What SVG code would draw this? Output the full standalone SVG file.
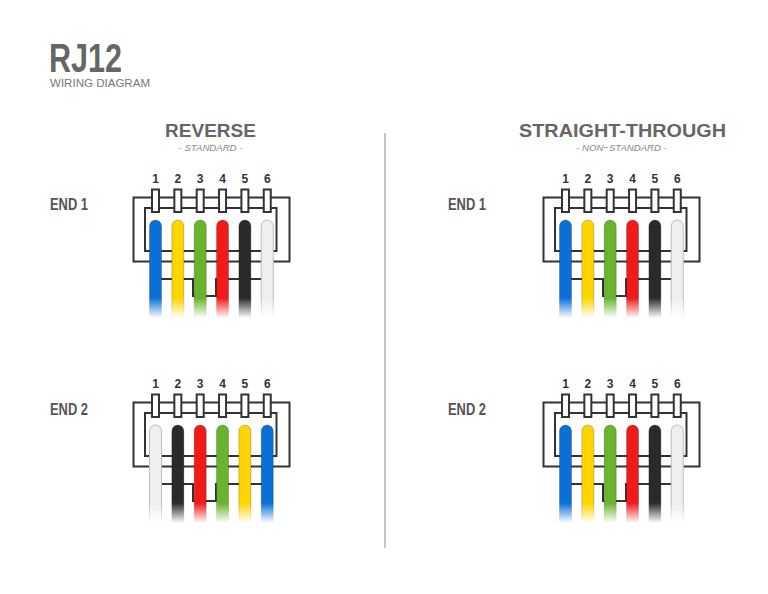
<svg xmlns="http://www.w3.org/2000/svg" xmlns:xlink="http://www.w3.org/1999/xlink" width="768" height="594" viewBox="0 0 768 594">
  <style>
    .title { font-family: "Liberation Sans", Arial, sans-serif; font-weight: bold; fill: #666; }
    .sub { font-family: "Liberation Sans", Arial, sans-serif; font-style: italic; font-size: 9.6px; fill: #888; }
    .end { font-family: "Liberation Sans", Arial, sans-serif; font-weight: bold; font-size: 16.5px; fill: #555; }
    .num { font-family: "Liberation Sans", Arial, sans-serif; font-weight: bold; font-size: 12px; fill: #333; text-anchor: middle; }
    .frame { fill: none; stroke: #333; stroke-width: 2; }
    .pin { fill: #fff; stroke: #333; stroke-width: 2; }
    .wire { stroke: rgba(0,0,0,0.22); stroke-width: 1; }
    .blue { fill: #0b6fd8; }
    .yellow { fill: #ffd500; }
    .green { fill: #6ab42d; }
    .red { fill: #f01a1a; }
    .black { fill: #2a2a2a; }
    .white { fill: #efefef; stroke: #bcbcbc; }
  </style>
  <defs>
    <linearGradient id="fade" gradientUnits="userSpaceOnUse" x1="0" y1="298" x2="0" y2="318">
      <stop offset="0" stop-color="#fff" stop-opacity="1"/>
      <stop offset="1" stop-color="#fff" stop-opacity="0"/>
    </linearGradient>
    <mask id="wirefade" maskUnits="userSpaceOnUse" x="130" y="210" width="170" height="120">
      <rect x="130" y="210" width="170" height="120" fill="url(#fade)"/>
    </mask>
    <g id="body">
      <rect class="frame" x="133.5" y="197.5" width="156" height="64"/>
      <rect class="frame" x="145" y="208" width="131.5" height="43"/>
      <path class="frame" d="M150,279 H193 V296 H216 V279 H272"/>
      <rect class="pin" x="152" y="189.5" width="7" height="22.5"/>
      <rect class="pin" x="174.35" y="189.5" width="7" height="22.5"/>
      <rect class="pin" x="196.7" y="189.5" width="7" height="22.5"/>
      <rect class="pin" x="219.05" y="189.5" width="7" height="22.5"/>
      <rect class="pin" x="241.4" y="189.5" width="7" height="22.5"/>
      <rect class="pin" x="263.75" y="189.5" width="7" height="22.5"/>
    </g>
  </defs>

  <g id="header">
    <text class="title" x="49" y="72" font-size="41" textLength="73" lengthAdjust="spacingAndGlyphs">RJ12</text>
    <text x="50" y="86.5" font-family="Liberation Sans, Arial, sans-serif" font-size="11" fill="#777" textLength="100" lengthAdjust="spacingAndGlyphs">WIRING DIAGRAM</text>
  </g>

  <g id="heading-reverse">
    <text class="title" x="210.5" y="136.5" font-size="19" text-anchor="middle">REVERSE</text>
    <text class="sub" x="210.5" y="150.5" text-anchor="middle">- STANDARD -</text>
  </g>
  <g id="heading-straight">
    <text class="title" x="622.5" y="136.5" font-size="19" text-anchor="middle" textLength="207" lengthAdjust="spacingAndGlyphs">STRAIGHT-THROUGH</text>
    <text class="sub" x="621.5" y="150.5" text-anchor="middle">- NON−STANDARD -</text>
  </g>

  <g id="labels">
    <text class="end" x="50" y="209.5" textLength="38" lengthAdjust="spacingAndGlyphs">END 1</text>
    <text class="end" x="50" y="414.5" textLength="38" lengthAdjust="spacingAndGlyphs">END 2</text>
    <text class="end" x="448" y="209.5" textLength="38" lengthAdjust="spacingAndGlyphs">END 1</text>
    <text class="end" x="448" y="414.5" textLength="38" lengthAdjust="spacingAndGlyphs">END 2</text>
  </g>

  <g id="connectors">
    <line x1="385" y1="133" x2="385" y2="548" stroke="#8a8a8a" stroke-width="1"/>
  </g>

  <g id="reverse-end1">
    <text class="num" x="155.5" y="183">1</text>
    <text class="num" x="177.85" y="183">2</text>
    <text class="num" x="200.2" y="183">3</text>
    <text class="num" x="222.55" y="183">4</text>
    <text class="num" x="244.9" y="183">5</text>
    <text class="num" x="267.25" y="183">6</text>
    <use xlink:href="#body"/>
    <g mask="url(#wirefade)">
      <rect class="wire blue" x="149.5" y="220" width="12" height="110" rx="6"/>
      <rect class="wire yellow" x="171.85" y="220" width="12" height="110" rx="6"/>
      <rect class="wire green" x="194.2" y="220" width="12" height="110" rx="6"/>
      <rect class="wire red" x="216.55" y="220" width="12" height="110" rx="6"/>
      <rect class="wire black" x="238.9" y="220" width="12" height="110" rx="6"/>
      <rect class="wire white" x="261.25" y="220" width="12" height="110" rx="6"/>
    </g>
  </g>

  <g id="reverse-end2" transform="translate(0,205)">
    <text class="num" x="155.5" y="183">1</text>
    <text class="num" x="177.85" y="183">2</text>
    <text class="num" x="200.2" y="183">3</text>
    <text class="num" x="222.55" y="183">4</text>
    <text class="num" x="244.9" y="183">5</text>
    <text class="num" x="267.25" y="183">6</text>
    <use xlink:href="#body"/>
    <g mask="url(#wirefade)">
      <rect class="wire white" x="149.5" y="220" width="12" height="110" rx="6"/>
      <rect class="wire black" x="171.85" y="220" width="12" height="110" rx="6"/>
      <rect class="wire red" x="194.2" y="220" width="12" height="110" rx="6"/>
      <rect class="wire green" x="216.55" y="220" width="12" height="110" rx="6"/>
      <rect class="wire yellow" x="238.9" y="220" width="12" height="110" rx="6"/>
      <rect class="wire blue" x="261.25" y="220" width="12" height="110" rx="6"/>
    </g>
  </g>

  <g id="straight-end1" transform="translate(410,0)">
    <text class="num" x="155.5" y="183">1</text>
    <text class="num" x="177.85" y="183">2</text>
    <text class="num" x="200.2" y="183">3</text>
    <text class="num" x="222.55" y="183">4</text>
    <text class="num" x="244.9" y="183">5</text>
    <text class="num" x="267.25" y="183">6</text>
    <use xlink:href="#body"/>
    <g mask="url(#wirefade)">
      <rect class="wire blue" x="149.5" y="220" width="12" height="110" rx="6"/>
      <rect class="wire yellow" x="171.85" y="220" width="12" height="110" rx="6"/>
      <rect class="wire green" x="194.2" y="220" width="12" height="110" rx="6"/>
      <rect class="wire red" x="216.55" y="220" width="12" height="110" rx="6"/>
      <rect class="wire black" x="238.9" y="220" width="12" height="110" rx="6"/>
      <rect class="wire white" x="261.25" y="220" width="12" height="110" rx="6"/>
    </g>
  </g>

  <g id="straight-end2" transform="translate(410,205)">
    <text class="num" x="155.5" y="183">1</text>
    <text class="num" x="177.85" y="183">2</text>
    <text class="num" x="200.2" y="183">3</text>
    <text class="num" x="222.55" y="183">4</text>
    <text class="num" x="244.9" y="183">5</text>
    <text class="num" x="267.25" y="183">6</text>
    <use xlink:href="#body"/>
    <g mask="url(#wirefade)">
      <rect class="wire blue" x="149.5" y="220" width="12" height="110" rx="6"/>
      <rect class="wire yellow" x="171.85" y="220" width="12" height="110" rx="6"/>
      <rect class="wire green" x="194.2" y="220" width="12" height="110" rx="6"/>
      <rect class="wire red" x="216.55" y="220" width="12" height="110" rx="6"/>
      <rect class="wire black" x="238.9" y="220" width="12" height="110" rx="6"/>
      <rect class="wire white" x="261.25" y="220" width="12" height="110" rx="6"/>
    </g>
  </g>
</svg>
